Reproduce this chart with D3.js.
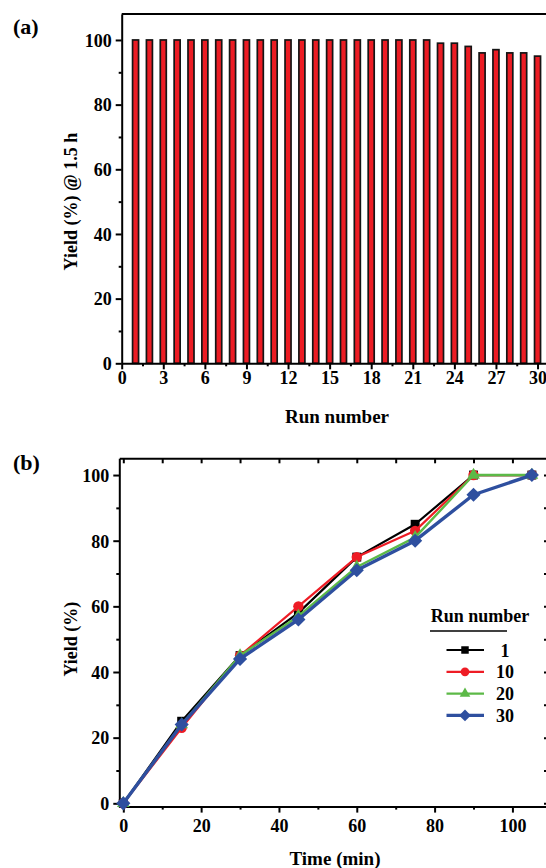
<!DOCTYPE html>
<html>
<head>
<meta charset="utf-8">
<script src="https://cdn.jsdelivr.net/npm/d3@7/dist/d3.min.js"></script>
<style>
  html, body { margin: 0; padding: 0; background: #fff; }
  svg { display: block; font-family: "Liberation Serif", "Times New Roman", serif; font-weight: bold; }
  .axis path, .axis line { stroke: #000; stroke-width: 2; }
  .axis text { font-family: "Liberation Serif", serif; font-weight: bold; font-size: 18px; fill: #000; }
</style>
</head>
<body>
<svg id="chart" width="546" height="868"></svg>
<script>
// Panel (a): yield after 1.5 h for each recycling run
const runs = d3.range(1, 31);
const runYield = [100, 100, 100, 100, 100, 100, 100, 100, 100, 100,
                  100, 100, 100, 100, 100, 100, 100, 100, 100, 100,
                  100, 100, 99, 99, 98, 96, 97, 96, 96, 95];
const runTicks = [0, 3, 6, 9, 12, 15, 18, 21, 24, 27, 30];
const yieldTicksA = [0, 20, 40, 60, 80, 100];

// Panel (b): kinetic profiles for selected runs
const times = [0, 15, 30, 45, 60, 75, 90, 105];
const run1 = [0, 25, 45, 58, 75, 85, 100, 100];
const run10 = [0, 23, 45, 60, 75, 83, 100, 100];
const run20 = [0, 24, 45, 57, 72, 81, 100, 100];
const run30 = [0, 24, 44, 56, 71, 80, 94, 100];
const seriesNames = ["1", "10", "20", "30"];
const timeTicks = [0, 20, 40, 60, 80, 100];
const yieldTicksB = [0, 20, 40, 60, 80, 100];

const svg = d3.select("#chart");

// square rotated by 45 degrees (equal-diagonal diamond)
const diamond = {
  draw(ctx, size) {
    const r = Math.sqrt(size / 2);
    ctx.moveTo(0, -r); ctx.lineTo(r, 0); ctx.lineTo(0, r); ctx.lineTo(-r, 0); ctx.closePath();
  }
};

// ---------- Panel (a) ----------
const xA = d3.scaleLinear().domain([0, 31]).range([121.7, 551.4]);
const yA = d3.scaleLinear().domain([0, 108]).range([363.3, 14.1]);

svg.append("text").attr("x", 13).attr("y", 34).attr("font-size", 22).text("(a)");

const gA = svg.append("g");
const barW = 6;
gA.selectAll("rect.bar").data(runs).join("rect")
  .attr("class", "bar")
  .attr("x", d => xA(d) - barW / 2)
  .attr("y", (d, i) => yA(runYield[i]))
  .attr("width", barW)
  .attr("height", (d, i) => yA(0) - yA(runYield[i]))
  .attr("fill", "#ec1c24")
  .attr("stroke", "#151515")
  .attr("stroke-width", 1.7);

// minor ticks
gA.append("g").attr("class", "axis").attr("transform", `translate(${xA(0)},0)`)
  .call(d3.axisLeft(yA).tickValues([10, 30, 50, 70, 90]).tickSize(3).tickFormat(""))
  .call(g => g.select(".domain").remove());
gA.append("g").attr("class", "axis").attr("transform", `translate(0,${yA(0)})`)
  .call(d3.axisBottom(xA).tickValues(d3.range(1.5, 31, 3)).tickSize(3).tickFormat(""))
  .call(g => g.select(".domain").remove());
// major axes
gA.append("g").attr("class", "axis").attr("transform", `translate(${xA(0)},0)`)
  .call(d3.axisLeft(yA).tickValues(yieldTicksA).tickSize(6).tickSizeOuter(0).tickPadding(4))
  .call(g => g.selectAll("text").attr("dy", "0.35em"));
gA.append("g").attr("class", "axis").attr("transform", `translate(0,${yA(0)})`)
  .call(d3.axisBottom(xA).tickValues(runTicks).tickSize(6).tickSizeOuter(0).tickPadding(2));
// top frame line
gA.append("line").attr("x1", xA(0)).attr("x2", 546).attr("y1", yA(108)).attr("y2", yA(108))
  .attr("stroke", "#000").attr("stroke-width", 2);

gA.append("text").attr("x", 337).attr("y", 423).attr("text-anchor", "middle")
  .attr("font-size", 19).text("Run number");
gA.append("text").attr("transform", `translate(77,${(yA(0) + yA(100)) / 2}) rotate(-90)`)
  .attr("text-anchor", "middle").attr("font-size", 18).text("Yield (%) @ 1.5 h");

// ---------- Panel (b) ----------
const xB = d3.scaleLinear().domain([-1.03, 109.4]).range([119.3, 549]);
const yB = d3.scaleLinear().domain([-1, 105.1]).range([806.6, 458.3]);

svg.append("text").attr("x", 13).attr("y", 470).attr("font-size", 22).text("(b)");

const gB = svg.append("g");
// frame ticks (inward on top and right)
gB.append("g").attr("class", "axis").attr("transform", `translate(0,${yB.range()[1]})`)
  .call(d3.axisTop(xB).tickValues(d3.range(0, 110, 10)).tickSize(-5).tickSizeOuter(0).tickFormat(""));
gB.append("g").attr("class", "axis").attr("transform", `translate(${xB.range()[1]},0)`)
  .call(d3.axisRight(yB).tickValues(d3.range(0, 110, 10)).tickSize(-5).tickSizeOuter(0).tickFormat(""));
// minor ticks
gB.append("g").attr("class", "axis").attr("transform", `translate(${xB.range()[0]},0)`)
  .call(d3.axisLeft(yB).tickValues([10, 30, 50, 70, 90]).tickSize(3).tickFormat(""))
  .call(g => g.select(".domain").remove());
gB.append("g").attr("class", "axis").attr("transform", `translate(0,${yB.range()[0]})`)
  .call(d3.axisBottom(xB).tickValues([10, 30, 50, 70, 90]).tickSize(3).tickFormat(""))
  .call(g => g.select(".domain").remove());
// major axes
gB.append("g").attr("class", "axis").attr("transform", `translate(${xB.range()[0]},0)`)
  .call(d3.axisLeft(yB).tickValues(yieldTicksB).tickSize(6).tickSizeOuter(0).tickPadding(4))
  .call(g => g.selectAll("text").attr("dy", "0.35em"));
gB.append("g").attr("class", "axis").attr("transform", `translate(0,${yB.range()[0]})`)
  .call(d3.axisBottom(xB).tickValues(timeTicks).tickSize(6).tickSizeOuter(0).tickPadding(7));

gB.append("text").attr("x", 335).attr("y", 865).attr("text-anchor", "middle")
  .attr("font-size", 19).text("Time (min)");
gB.append("text").attr("transform", `translate(77,${(yB(0) + yB(100)) / 2}) rotate(-90)`)
  .attr("text-anchor", "middle").attr("font-size", 18).text("Yield (%)");

const series = [
  { name: seriesNames[0], values: run1, color: "#000000", width: 2.2, symbol: d3.symbolSquare, size: 80 },
  { name: seriesNames[1], values: run10, color: "#ee1c25", width: 2.2, symbol: d3.symbolCircle, size: 85 },
  { name: seriesNames[2], values: run20, color: "#5cb947", width: 2.4, symbol: d3.symbolTriangle, size: 70 },
  { name: seriesNames[3], values: run30, color: "#2e4f9f", width: 3.4, symbol: diamond, size: 100 }
];

const line = d3.line().x((d, i) => xB(times[i])).y(d => yB(d));
series.forEach(s => {
  gB.append("path").datum(s.values).attr("d", line)
    .attr("fill", "none").attr("stroke", s.color).attr("stroke-width", s.width)
    .attr("stroke-linejoin", "round");
  gB.selectAll(null).data(s.values).join("path")
    .attr("transform", (d, i) => `translate(${xB(times[i])},${yB(d)})`)
    .attr("d", d3.symbol().type(s.symbol).size(s.size))
    .attr("fill", s.color);
});

// legend
const lg = gB.append("g");
lg.append("text").attr("x", 480).attr("y", 622).attr("text-anchor", "middle")
  .attr("font-size", 18).text("Run number");
lg.append("line").attr("x1", 430).attr("x2", 507).attr("y1", 631).attr("y2", 631)
  .attr("stroke", "#000").attr("stroke-width", 1.5);
series.forEach((s, i) => {
  const yy = 650 + i * 21.8;
  lg.append("line").attr("x1", 446.5).attr("x2", 484).attr("y1", yy).attr("y2", yy)
    .attr("stroke", s.color).attr("stroke-width", s.width);
  lg.append("path").attr("transform", `translate(465,${yy})`)
    .attr("d", d3.symbol().type(s.symbol).size(s.size * 0.7)).attr("fill", s.color);
  lg.append("text").attr("x", 505).attr("y", yy + 6.5).attr("text-anchor", "middle")
    .attr("font-size", 18).text(s.name);
});
</script>
</body>
</html>
